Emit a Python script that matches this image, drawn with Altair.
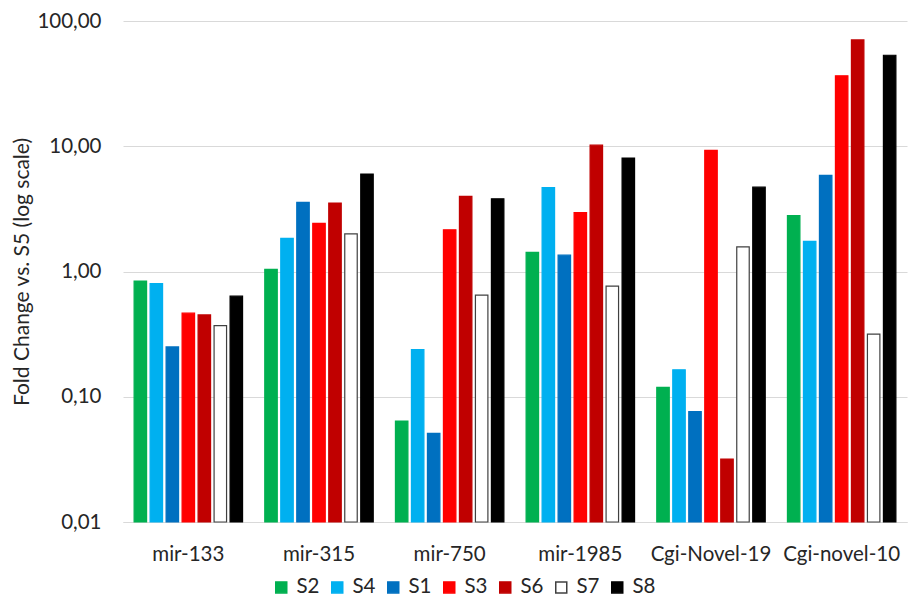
import altair as alt
import pandas as pd

# Categories and samples
mirnas = ["mir-133", "mir-315", "mir-750", "mir-1985", "Cgi-Novel-19", "Cgi-novel-10"]
samples = ["S2", "S4", "S1", "S3", "S6", "S7", "S8"]

# Fold change vs. S5 for each sample, in the order of `mirnas`
s2 = [0.84, 1.04, 0.064, 1.42, 0.119, 2.79]
s4 = [0.80, 1.84, 0.238, 4.68, 0.164, 1.74]
s1 = [0.25, 3.56, 0.051, 1.35, 0.076, 5.86]
s3 = [0.465, 2.42, 2.15, 2.95, 9.28, 36.5]
s6 = [0.45, 3.52, 3.98, 10.2, 0.0318, 70.6]
s7 = [0.37, 2.00, 0.647, 0.765, 1.57, 0.316]
s8 = [0.635, 6.00, 3.81, 8.04, 4.71, 53.3]

series = {"S2": s2, "S4": s4, "S1": s1, "S3": s3, "S6": s6, "S7": s7, "S8": s8}

fills = ["#00B050", "#00B0F0", "#0070C0", "#FF0000", "#C00000", "#FFFFFF", "#000000"]
strokes = ["#00B050", "#00B0F0", "#0070C0", "#FF0000", "#C00000", "#404040", "#000000"]

rows = []
for s in samples:
    for m, v in zip(mirnas, series[s]):
        rows.append({"mirna": m, "sample": s, "fold": v})
df = pd.DataFrame(rows)

FONT = "Lato"
FS = 20.5
TEXT = "#262626"
GRID = "#d9d9d9"

legend = alt.Legend(
    title=None,
    orient="none",
    legendX=148,
    legendY=556,
    direction="horizontal",
    symbolType="square",
    symbolSize=121,
    symbolStrokeWidth=1.5,
    labelFontSize=FS,
    labelFont=FONT,
    labelColor=TEXT,
    labelOffset=5,
    columnPadding=7,
    padding=0,
)

chart = (
    alt.Chart(df)
    .mark_bar(strokeWidth=1.2)
    .encode(
        x=alt.X(
            "mirna:N",
            sort=mirnas,
            scale=alt.Scale(paddingInner=0.17, paddingOuter=0.085),
            axis=alt.Axis(
                title=None,
                labelAngle=0,
                ticks=False,
                domainColor=GRID,
                domainWidth=1,
                labelPadding=22,
                labelFontSize=FS,
                labelFont=FONT,
                labelColor=TEXT,
            ),
        ),
        xOffset=alt.XOffset(
            "sample:N", sort=samples, scale=alt.Scale(paddingInner=0.22, paddingOuter=0)
        ),
        y=alt.Y(
            "fold:Q",
            scale=alt.Scale(type="log", domain=[0.01, 100]),
            axis=alt.Axis(
                title="Fold Change vs. S5 (log scale)",
                values=[0.01, 0.1, 1, 10, 100],
                labelExpr="replace(format(datum.value, '.2f'), '.', ',')",
                grid=True,
                gridColor=GRID,
                gridWidth=1,
                domain=False,
                ticks=False,
                labelPadding=22,
                labelFontSize=FS,
                labelFont=FONT,
                labelColor=TEXT,
                titleFontSize=21,
                titleFont=FONT,
                titleFontWeight="normal",
                titleColor=TEXT,
                titleX=-101,
                titleBaseline="middle",
            ),
        ),
        y2=alt.datum(0.01),
        fill=alt.Fill(
            "sample:N", sort=samples, scale=alt.Scale(domain=samples, range=fills), legend=legend
        ),
        stroke=alt.Stroke(
            "sample:N", sort=samples, scale=alt.Scale(domain=samples, range=strokes), legend=legend
        ),
    )
    .properties(
        width=784,
        height=501,
        padding={"left": 123, "top": 21, "right": 4, "bottom": 77},
        autosize=alt.AutoSizeParams(type="none"),
        background="white",
    )
    .configure_view(stroke=None)
)

chart.save("out.html", embed_options={"renderer": "svg", "actions": False})
